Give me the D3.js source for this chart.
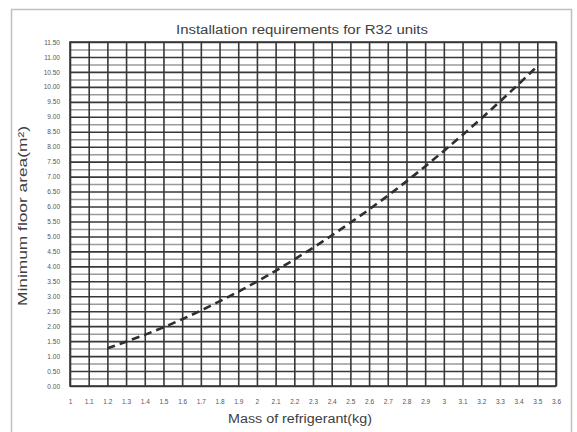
<!DOCTYPE html>
<html>
<head>
<meta charset="utf-8">
<script src="https://cdn.jsdelivr.net/npm/d3@7"></script>
<style>
  body { margin: 0; background: #fff; }
  svg { display: block; }
  text { font-family: 'Liberation Sans', Arial, sans-serif; fill: #404040; }
</style>
</head>
<body>
<script>
// data
var xTicks = [1, 1.1, 1.2, 1.3, 1.4, 1.5, 1.6, 1.7, 1.8, 1.9, 2, 2.1, 2.2, 2.3, 2.4, 2.5, 2.6, 2.7, 2.8, 2.9, 3, 3.1, 3.2, 3.3, 3.4, 3.5, 3.6];
var yTicks = [0, 0.5, 1, 1.5, 2, 2.5, 3, 3.5, 4, 4.5, 5, 5.5, 6, 6.5, 7, 7.5, 8, 8.5, 9, 9.5, 10, 10.5, 11, 11.5];
var yMinor = [0.25, 0.75, 1.25, 1.75, 2.25, 2.75, 3.25, 3.75, 4.25, 4.75, 5.25, 5.75, 6.25, 6.75, 7.25, 7.75, 8.25, 8.75, 9.25, 9.75, 10.25, 10.75, 11.25];
var mass = [1.2, 1.3, 1.4, 1.5, 1.6, 1.7, 1.8, 1.9, 2.0, 2.1, 2.2, 2.3, 2.4, 2.5, 2.6, 2.7, 2.8, 2.9, 3.0, 3.1, 3.2, 3.3, 3.4, 3.5];
var area = [1.26, 1.48, 1.71, 1.96, 2.23, 2.52, 2.83, 3.15, 3.49, 3.85, 4.23, 4.62, 5.03, 5.46, 5.90, 6.36, 6.84, 7.34, 7.86, 8.39, 8.94, 9.51, 10.09, 10.69];

var W = 577, H = 432;
var margin = { top: 42, right: 21, bottom: 46, left: 70 };
var width = W - margin.left - margin.right;
var height = H - margin.top - margin.bottom;

var svg = d3.select('body')
	.append('svg')
	.attr('width', W)
	.attr('height', H);

// chart area border
svg.append('rect')
	.attr('x', 11.5)
	.attr('y', 9.5)
	.attr('width', 560)
	.attr('height', 440)
	.attr('fill', 'none')
	.attr('stroke', '#c0c0c0')
	.attr('stroke-width', 1.5);

var g = svg.append('g')
	.attr('transform', 'translate(' + margin.left + ',' + margin.top + ')');

var x = d3.scaleLinear().domain([1, 3.6]).range([0, width]);
var y = d3.scaleLinear().domain([0, 11.5]).range([height, 0]);

// minor horizontal grid
g.append('g')
	.attr('class', 'grid minor')
	.call(d3.axisLeft(y).tickValues(yMinor).tickSize(-width).tickFormat(''))
	.call(function (s) {
		s.select('.domain').remove();
		s.selectAll('line').attr('stroke', '#9a9a9a').attr('stroke-width', 1.5);
	});

// major horizontal grid
g.append('g')
	.attr('class', 'grid major')
	.call(d3.axisLeft(y).tickValues(yTicks).tickSize(-width).tickFormat(''))
	.call(function (s) {
		s.select('.domain').remove();
		s.selectAll('line').attr('stroke', '#383838').attr('stroke-width', 1.6);
	});

// vertical grid
g.append('g')
	.attr('class', 'grid vert')
	.attr('transform', 'translate(0,' + height + ')')
	.call(d3.axisBottom(x).tickValues(xTicks).tickSize(-height).tickFormat(''))
	.call(function (s) {
		s.select('.domain').remove();
		s.selectAll('line').attr('stroke', '#383838').attr('stroke-width', 1.6);
	});

// plot border
g.append('rect')
	.attr('width', width)
	.attr('height', height)
	.attr('fill', 'none')
	.attr('stroke', '#383838')
	.attr('stroke-width', 1.6);

// axes labels
var y_axis = d3.axisLeft(y)
	.tickValues(yTicks)
	.tickSize(0)
	.tickPadding(10)
	.tickFormat(d3.format('.2f'));
g.append('g')
	.attr('class', 'y axis')
	.call(y_axis)
	.call(function (s) {
		s.select('.domain').remove();
		s.selectAll('text').style('font-size', '6.5px').style('fill', '#555');
	});

var x_axis = d3.axisBottom(x)
	.tickValues(xTicks)
	.tickSize(0)
	.tickPadding(13)
	.tickFormat(function (d) { return String(d); });
g.append('g')
	.attr('class', 'x axis')
	.attr('transform', 'translate(0,' + height + ')')
	.call(x_axis)
	.call(function (s) {
		s.select('.domain').remove();
		s.selectAll('text').style('font-size', '6.5px').style('fill', '#555');
	});

// line
var line = d3.line()
	.x(function (d, i) { return x(mass[i]); })
	.y(function (d) { return y(d); });

g.append('path')
	.datum(area)
	.attr('d', line)
	.attr('fill', 'none')
	.attr('stroke', '#2e2e2e')
	.attr('stroke-width', 2.6)
	.attr('stroke-dasharray', '8,5');

// titles
svg.append('text')
	.attr('x', 302)
	.attr('y', 34)
	.attr('text-anchor', 'middle')
	.attr('textLength', 252)
	.attr('lengthAdjust', 'spacingAndGlyphs')
	.style('font-size', '12px')
	.text('Installation requirements for R32 units');

svg.append('text')
	.attr('x', 300)
	.attr('y', 423)
	.attr('text-anchor', 'middle')
	.attr('textLength', 144)
	.attr('lengthAdjust', 'spacingAndGlyphs')
	.style('font-size', '12px')
	.text('Mass of refrigerant(kg)');

svg.append('text')
	.attr('transform', 'translate(27,216) rotate(-90)')
	.attr('text-anchor', 'middle')
	.attr('textLength', 180)
	.attr('lengthAdjust', 'spacingAndGlyphs')
	.style('font-size', '12px')
	.text('Minimum floor area(m²)');
</script>
</body>
</html>
